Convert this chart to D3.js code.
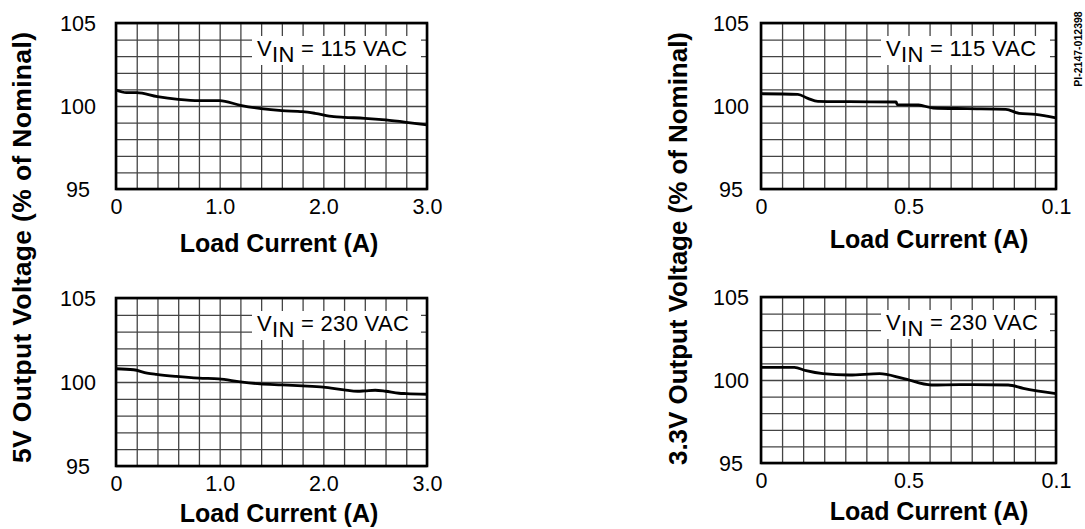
<!DOCTYPE html>
<html>
<head>
<meta charset="utf-8">
<script src="https://cdn.jsdelivr.net/npm/d3@7"></script>
<style>
  body { margin: 0; background: #fff; }
  svg { display: block; font-family: "Liberation Sans", Arial, Helvetica, sans-serif; }
</style>
</head>
<body>
<svg id="chart" width="1085" height="529"></svg>
<script>
// values (% of nominal vs load current)
const load5v115 = [0, 0.1, 0.2, 0.4, 0.6, 0.8, 1.0, 1.2, 1.4, 1.6, 1.8, 1.92, 2.1, 2.2, 2.4, 2.6, 2.8, 3.0];
const vout5v115 = [100.96, 100.8, 100.8, 100.56, 100.4, 100.32, 100.32, 100.04, 99.84, 99.72, 99.66, 99.56, 99.36, 99.32, 99.26, 99.16, 99.02, 98.86];

const load5v230 = [0, 0.17, 0.3, 0.39, 0.58, 0.8, 0.99, 1.2, 1.39, 1.6, 1.8, 2.0, 2.2, 2.33, 2.4, 2.5, 2.6, 2.73, 2.8, 3.0];
const vout5v230 = [100.79, 100.73, 100.53, 100.45, 100.33, 100.23, 100.19, 100.01, 99.89, 99.83, 99.77, 99.69, 99.53, 99.45, 99.47, 99.51, 99.45, 99.33, 99.31, 99.27];

const load33v115 = [0, 0.125, 0.159, 0.193, 0.30, 0.458, 0.462, 0.534, 0.583, 0.7, 0.83, 0.875, 0.93, 1.0];
const vout33v115 = [100.74, 100.7, 100.46, 100.28, 100.26, 100.24, 100.08, 100.06, 99.88, 99.84, 99.8, 99.56, 99.5, 99.28];

const load33v230 = [0, 0.113, 0.153, 0.21, 0.3, 0.402, 0.481, 0.578, 0.674, 0.838, 0.889, 1.0];
const vout33v230 = [100.76, 100.76, 100.56, 100.38, 100.3, 100.38, 100.1, 99.7, 99.72, 99.7, 99.5, 99.18];

const yTicks = [95, 100, 105];
const xTicks5v = [0, 1, 2, 3];
const xTickLabels5v = ["0", "1.0", "2.0", "3.0"];
const xTicks33v = [0, 0.5, 1];
const xTickLabels33v = ["0", "0.5", "0.1"];   // printed that way on the original

const vinLabels = ["115", "230"];
const xTitle = "Load Current (A)";
const yTitle5v = "5V Output Voltage (% of Nominal)";
const yTitle33v = "3.3V Output Voltage (% of Nominal)";
const partNo = "PI-2147-012398";

// panel layout (pixels)
var panels = [
    {x: load5v115, y: vout5v115, xmax: 3, cols: 15, ticks: xTicks5v, tickLabels: xTickLabels5v, vin: vinLabels[0],
     left: 116, top: 23, right: 427, bottom: 189, yLabX: 38, titleX: 279, titleY: 252},
    {x: load5v230, y: vout5v230, xmax: 3, cols: 15, ticks: xTicks5v, tickLabels: xTickLabels5v, vin: vinLabels[1],
     left: 116, top: 298, right: 427, bottom: 466, yLabX: 38, titleX: 279, titleY: 522},
    {x: load33v115, y: vout33v115, xmax: 1, cols: 14, ticks: xTicks33v, tickLabels: xTickLabels33v, vin: vinLabels[0],
     left: 761, top: 23, right: 1056, bottom: 189, yLabX: 30, titleX: 929, titleY: 248},
    {x: load33v230, y: vout33v230, xmax: 1, cols: 14, ticks: xTicks33v, tickLabels: xTickLabels33v, vin: vinLabels[1],
     left: 761, top: 297, right: 1056, bottom: 463, yLabX: 30, titleX: 929, titleY: 520}
];

var svg = d3.select("#chart");

function drawPanel(p) {
    var x = d3.scaleLinear().domain([0, p.xmax]).range([p.left, p.right]);
    var y = d3.scaleLinear().domain([95, 105]).range([p.bottom, p.top]);
    var g = svg.append("g");

    var xGrid = d3.range(p.cols + 1).map(i => i * p.xmax / p.cols);
    var yGrid = d3.range(95, 105.5, 1);

    // grid through the library's axes
    g.append("g")
        .attr("transform", "translate(0," + p.bottom + ")")
        .call(d3.axisBottom(x).tickValues(xGrid).tickSize(-(p.bottom - p.top)).tickFormat(""))
        .call(s => s.select(".domain").remove())
        .selectAll("line").attr("stroke", "#444").attr("stroke-width", 1.3);
    g.append("g")
        .attr("transform", "translate(" + p.left + ",0)")
        .call(d3.axisLeft(y).tickValues(yGrid).tickSize(-(p.right - p.left)).tickFormat(""))
        .call(s => s.select(".domain").remove())
        .selectAll("line").attr("stroke", "#444").attr("stroke-width", 1.3);

    // tick labels
    var xa = g.append("g")
        .attr("transform", "translate(0," + p.bottom + ")")
        .call(d3.axisBottom(x).tickValues(p.ticks).tickSize(0).tickFormat((d, i) => p.tickLabels[i]));
    xa.select(".domain").remove();
    xa.selectAll("text").attr("y", 25).attr("dy", null)
        .attr("font-size", 21.5).attr("fill", "#000")
        .attr("font-family", "'Liberation Sans', Arial, sans-serif");

    var ya = g.append("g")
        .attr("transform", "translate(" + p.left + ",0)")
        .call(d3.axisLeft(y).tickValues(yTicks).tickSize(0));
    ya.select(".domain").remove();
    ya.selectAll("text").attr("x", -p.yLabX).attr("dy", "0.36em")
        .attr("text-anchor", "middle")
        .attr("font-size", 21.5).attr("fill", "#000")
        .attr("font-family", "'Liberation Sans', Arial, sans-serif");

    // VIN label on a white patch
    g.append("rect")
        .attr("x", p.right - 175).attr("y", p.top + 13)
        .attr("width", 169).attr("height", 29)
        .attr("fill", "#fff");
    var t = g.append("text")
        .attr("x", p.right - 170).attr("y", p.top + 33)
        .attr("font-size", 22).attr("letter-spacing", 0.3);
    t.append("tspan").text("V");
    t.append("tspan").attr("dy", 6).text("IN");
    t.append("tspan").attr("dy", -6).text(" = " + p.vin + " VAC");

    // the curve
    var pts = p.x.map((d, i) => [d, p.y[i]]);
    g.append("path")
        .datum(pts)
        .attr("fill", "none")
        .attr("stroke", "#000")
        .attr("stroke-width", 2.8)
        .attr("stroke-linejoin", "round")
        .attr("d", d3.line().x(d => x(d[0])).y(d => y(d[1])).curve(d3.curveMonotoneX));

    // frame
    g.append("rect")
        .attr("x", p.left).attr("y", p.top)
        .attr("width", p.right - p.left).attr("height", p.bottom - p.top)
        .attr("fill", "none").attr("stroke", "#000").attr("stroke-width", 2.6);

    g.append("text")
        .attr("x", p.titleX).attr("y", p.titleY)
        .attr("text-anchor", "middle")
        .attr("font-size", 25).attr("font-weight", "bold")
        .text(xTitle);
}

panels.forEach(drawPanel);

// rotated axis titles
svg.append("text")
    .attr("transform", "translate(31,247.5) rotate(-90)")
    .attr("text-anchor", "middle")
    .attr("font-size", 26.5).attr("font-weight", "bold")
    .attr("textLength", 431)
    .text(yTitle5v);

svg.append("text")
    .attr("transform", "translate(687,248.5) rotate(-90)")
    .attr("text-anchor", "middle")
    .attr("font-size", 26).attr("font-weight", "bold")
    .attr("textLength", 433)
    .text(yTitle33v);

svg.append("text")
    .attr("transform", "translate(1082,49) rotate(-90)")
    .attr("text-anchor", "middle")
    .attr("font-size", 10.5).attr("font-weight", "bold")
    .text(partNo);
</script>
</body>
</html>
